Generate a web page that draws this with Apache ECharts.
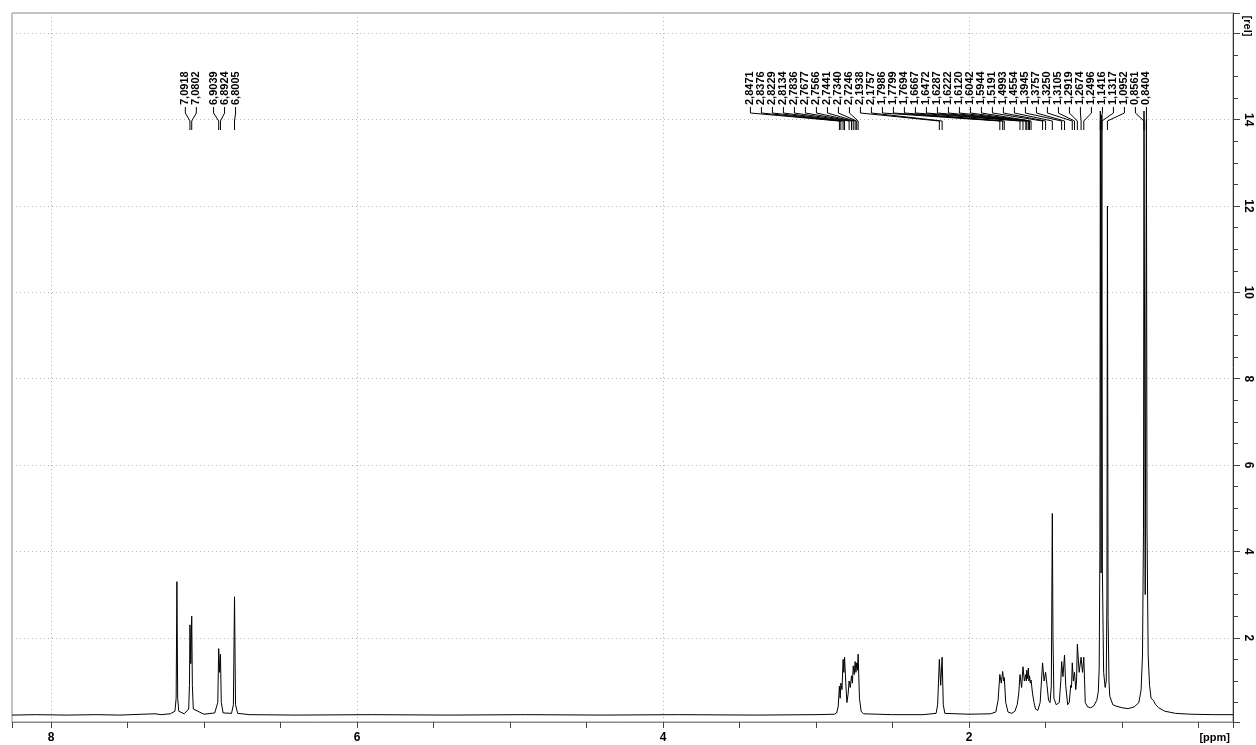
<!DOCTYPE html>
<html>
<head>
<meta charset="utf-8">
<script src="https://cdn.jsdelivr.net/npm/echarts@6/dist/echarts.min.js"></script>
<style>
html,body{margin:0;padding:0;background:#fff;}
#chart{width:1256px;height:745px;}
</style>
</head>
<body>
<div id="chart"></div>
<script>
// ---- data ----
const xRange = [0.2745, 8.2549];          // ppm shown (axis is reversed)
const yRange = [0.05, 16.47];             // [rel]
const xLabelValues = [8, 6, 4, 2];
const yLabelValues = [2, 4, 6, 8, 10, 12, 14];
const xUnit = '[ppm]';
const yUnit = '[rel]';

const peakLabelsAromatic = [7.0918, 7.0802, 6.9039, 6.8924, 6.8005];
const peakLabelsAliphatic = [2.8471, 2.8376, 2.8229, 2.8134, 2.7836, 2.7677, 2.7566, 2.7441, 2.7340, 2.7246,
  2.1938, 2.1757, 1.7986, 1.7799, 1.7694, 1.6667, 1.6472, 1.6287, 1.6222, 1.6120, 1.6042, 1.5944,
  1.5191, 1.4993, 1.4554, 1.3945, 1.3757, 1.3250, 1.3105, 1.2919, 1.2674, 1.2496,
  1.1416, 1.1317, 1.0952, 0.8561, 0.8404];

// spectrum trace: [ppm, intensity]
const spectrum = [
  [8.2549,0.21],[8.10,0.22],[7.90,0.21],[7.70,0.22],[7.55,0.21],[7.40,0.23],[7.32,0.24],[7.28,0.22],
  [7.22,0.24],[7.19,0.30],[7.182,0.60],[7.177,3.30],[7.172,0.60],[7.165,0.30],[7.13,0.24],
  [7.10,0.35],[7.095,0.90],[7.0918,2.30],[7.086,1.40],[7.0802,2.50],[7.076,0.90],[7.07,0.35],
  [7.00,0.23],[6.93,0.26],[6.91,0.50],[6.9039,1.75],[6.898,1.20],[6.8924,1.62],[6.887,0.50],[6.875,0.26],
  [6.82,0.25],[6.808,0.45],[6.8005,2.95],[6.794,0.45],[6.78,0.25],[6.70,0.22],
  [6.40,0.21],[5.90,0.22],[5.40,0.21],[4.90,0.22],[4.40,0.21],[3.90,0.22],[3.40,0.21],[3.00,0.22],[2.88,0.23],
  [2.865,0.26],[2.855,0.40],[2.8471,0.88],[2.842,0.60],[2.8376,0.95],[2.830,0.80],[2.8229,1.50],[2.818,1.20],
  [2.8134,1.55],[2.806,1.00],[2.798,0.50],[2.790,0.70],[2.7836,1.00],[2.776,0.85],[2.7677,1.12],[2.762,0.95],
  [2.7566,1.35],[2.750,1.15],[2.7441,1.45],[2.739,1.20],[2.7340,1.42],[2.729,1.25],[2.7246,1.62],[2.716,0.60],
  [2.705,0.30],[2.69,0.24],[2.50,0.22],[2.30,0.22],[2.215,0.25],[2.205,0.45],[2.1938,1.50],[2.185,0.90],
  [2.1757,1.55],[2.168,0.45],[2.158,0.25],[2.00,0.23],[1.86,0.24],[1.825,0.28],[1.81,0.55],[1.7986,1.15],
  [1.789,0.95],[1.7799,1.22],[1.774,1.00],[1.7694,1.08],[1.76,0.50],[1.745,0.28],[1.72,0.25],[1.70,0.30],
  [1.685,0.45],[1.675,0.70],[1.6667,1.15],[1.656,0.85],[1.6472,1.33],[1.638,1.00],[1.6287,1.15],[1.6255,1.00],
  [1.6222,1.25],[1.617,1.05],[1.6120,1.30],[1.608,1.00],[1.6042,1.12],[1.599,0.95],[1.5944,1.02],[1.585,0.72],
  [1.575,0.50],[1.565,0.35],[1.55,0.32],[1.535,0.50],[1.5191,1.42],[1.509,1.00],[1.4993,1.20],[1.49,0.90],
  [1.48,0.55],[1.47,0.50],[1.462,0.90],[1.4554,4.88],[1.451,2.00],[1.445,0.60],[1.43,0.45],[1.41,0.50],
  [1.40,1.00],[1.3945,1.45],[1.386,1.10],[1.3757,1.60],[1.368,0.90],[1.355,0.45],[1.345,0.50],[1.335,0.90],
  [1.330,0.85],[1.3250,1.42],[1.318,1.00],[1.3105,1.20],[1.302,0.80],[1.297,1.00],[1.2919,1.85],[1.280,1.20],
  [1.2674,1.55],[1.258,1.20],[1.2496,1.55],[1.240,0.50],[1.225,0.40],[1.205,0.38],[1.185,0.42],[1.165,0.55],
  [1.155,0.75],[1.149,1.30],[1.1445,4.00],[1.1416,14.20],[1.1366,3.50],[1.1317,14.10],[1.128,3.50],[1.12,1.20],
  [1.11,0.85],[1.103,1.00],[1.0985,3.00],[1.0952,12.00],[1.091,2.50],[1.085,1.00],[1.08,0.65],[1.06,0.45],
  [1.04,0.42],[1.00,0.38],[0.96,0.36],[0.92,0.40],[0.89,0.50],[0.875,0.80],[0.866,1.60],[0.8595,4.50],
  [0.8561,14.20],[0.8483,3.00],[0.8404,14.00],[0.8365,4.50],[0.829,1.60],[0.82,0.90],[0.81,0.60],[0.795,0.55],
  [0.78,0.45],[0.76,0.38],[0.72,0.30],[0.65,0.25],[0.55,0.23],[0.40,0.22],[0.2745,0.22]
];

// ---- chart ----
const FONT = '"Liberation Sans", Arial, sans-serif';
const chart = echarts.init(document.getElementById('chart'), null, {renderer: 'canvas'});

const allLabels = peakLabelsAromatic.map(v => ({ppm: v, group: 0}))
  .concat(peakLabelsAliphatic.map(v => ({ppm: v, group: 1})));
const LABEL_GAP = 11;

function layoutCentered(px) {
  let clusters = px.map((p, i) => ({m: [i]}));
  const pos = c => {
    const mean = c.m.reduce((s, i) => s + px[i], 0) / c.m.length;
    return c.m.map((i, k) => mean + (k - (c.m.length - 1) / 2) * LABEL_GAP);
  };
  let changed = true;
  while (changed) {
    changed = false;
    for (let k = 0; k < clusters.length - 1; k++) {
      const a = pos(clusters[k]), b = pos(clusters[k + 1]);
      if (a[a.length - 1] + LABEL_GAP > b[0] + 0.01) {
        clusters[k] = {m: clusters[k].m.concat(clusters[k + 1].m)};
        clusters.splice(k + 1, 1);
        changed = true;
        break;
      }
    }
  }
  const out = [];
  clusters.forEach(c => pos(c).forEach(v => out.push(v)));
  return out;
}
function layoutRight(px) {
  const n = px.length, last = px[n - 1];
  return px.map((p, k) => last - (n - 1 - k) * LABEL_GAP);
}
function computeLayout(api) {
  const res = [];
  [0, 1].forEach(g => {
    const items = allLabels.filter(d => d.group === g);
    const px = items.map(d => api.coord([d.ppm, 10])[0]);
    const lx = g === 0 ? layoutCentered(px) : layoutRight(px);
    items.forEach((d, k) => res.push({px: px[k], lx: lx[k], text: d.ppm.toFixed(4).replace('.', ',')}));
  });
  return res;
}

const option = {
  animation: false,
  backgroundColor: '#ffffff',
  grid: {left: 12, right: 23, top: 13, bottom: 23, show: true, borderColor: '#8a8a8a', borderWidth: 1, backgroundColor: 'transparent'},
  xAxis: {
    type: 'value', inverse: true, min: xRange[0], max: xRange[1], splitNumber: 4,
    axisLine: {show: true, onZero: false, lineStyle: {color: '#8a8a8a', width: 1}},
    axisTick: {show: true, length: 6, lineStyle: {color: '#444'}},
    minorTick: {show: true, splitNumber: 4, length: 6, lineStyle: {color: '#444'}},
    axisLabel: {
      showMinLabel: false, showMaxLabel: false, margin: 10, color: '#000',
      fontSize: 12, fontWeight: 'bold', fontFamily: FONT,
      formatter: v => xLabelValues.some(t => Math.abs(t - v) < 1e-6) ? String(Math.round(v)) : ''
    },
    splitLine: {show: true, lineStyle: {color: '#b8b8b8', type: [1, 3], width: 1}},
    minorSplitLine: {show: false}
  },
  yAxis: {
    type: 'value', position: 'right', min: yRange[0], max: yRange[1], splitNumber: 8,
    axisLine: {show: true, lineStyle: {color: '#333', width: 1}},
    axisTick: {show: true, length: 7, lineStyle: {color: '#444'}},
    minorTick: {show: true, splitNumber: 4, length: 5, lineStyle: {color: '#444'}},
    axisLabel: {
      showMinLabel: false, showMaxLabel: false, margin: 9, rotate: -90, color: '#000',
      fontSize: 12, fontWeight: 'bold', fontFamily: FONT,
      formatter: v => yLabelValues.some(t => Math.abs(t - v) < 1e-6) ? String(Math.round(v)) : ''
    },
    splitLine: {show: true, lineStyle: {color: '#b8b8b8', type: [1, 3], width: 1}}
  },
  graphic: [
    {type: 'text', right: 26, bottom: 2, style: {text: xUnit, fill: '#000', font: 'bold 11px ' + FONT}},
    {type: 'text', x: 1247, y: 26, rotation: -Math.PI / 2,
     style: {text: yUnit, fill: '#000', font: 'bold 11px ' + FONT, align: 'center', verticalAlign: 'middle'}}
  ],
  series: [
    {
      type: 'line', data: spectrum, showSymbol: false, symbol: 'none', sampling: null,
      lineStyle: {color: '#000', width: 1}, clip: true, z: 3, silent: true
    },
    {
      type: 'custom', coordinateSystem: 'cartesian2d', silent: true, z: 4,
      data: allLabels.map(d => [d.ppm, 10]),
      renderItem: function (params, api) {
        const L = computeLayout(api);
        const p = L[params.dataIndex];
        const top = api.coord([xRange[1], yRange[1]])[1];
        return {
          type: 'group',
          children: [
            {type: 'polyline',
             shape: {points: [[p.lx, top + 94], [p.lx, top + 100], [p.px, top + 108], [p.px, top + 117]]},
             style: {stroke: '#000', lineWidth: 1, fill: null}},
            {type: 'text', x: p.lx, y: top + 92, rotation: Math.PI / 2,
             style: {text: p.text, fill: '#000', font: 'bold 11px ' + FONT, align: 'left', verticalAlign: 'middle'}}
          ]
        };
      }
    }
  ]
};
chart.setOption(option);
</script>
</body>
</html>
